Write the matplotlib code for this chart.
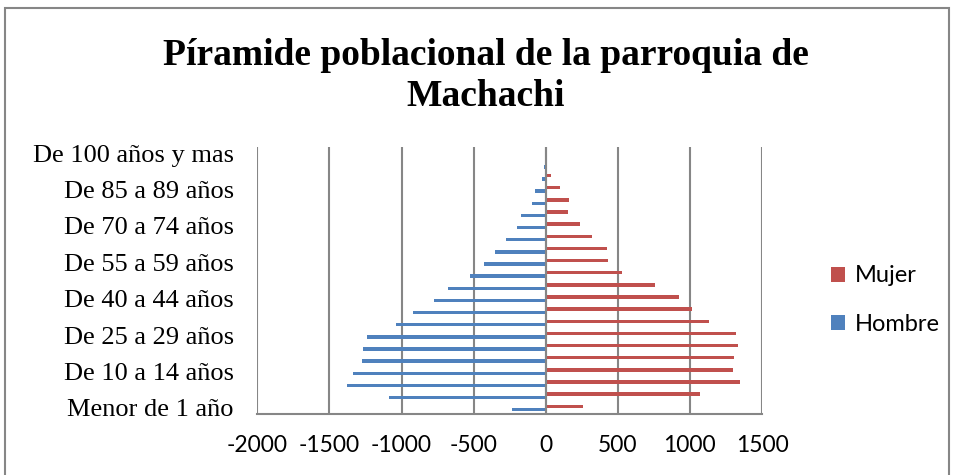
import numpy as np
import matplotlib.pyplot as plt
from matplotlib.patches import Rectangle

# age groups, bottom to top
grupos = ['Menor de 1 año', 'De 1 a 4 años', 'De 5 a 9 años', 'De 10 a 14 años',
          'De 15 a 19 años', 'De 20 a 24 años', 'De 25 a 29 años', 'De 30 a 34 años',
          'De 35 a 39 años', 'De 40 a 44 años', 'De 45 a 49 años', 'De 50 a 54 años',
          'De 55 a 59 años', 'De 60 a 64 años', 'De 65 a 69 años', 'De 70 a 74 años',
          'De 75 a 79 años', 'De 80 a 84 años', 'De 85 a 89 años', 'De 90 a 94 años',
          'De 95 a 99 años', 'De 100 años y mas']
hombre = [-235, -1088, -1381, -1337, -1273, -1266, -1240, -1039, -919, -775, -680,
          -523, -430, -354, -273, -201, -174, -93, -74, -24, -12, -2]
mujer = [259, 1069, 1346, 1302, 1307, 1335, 1318, 1131, 1018, 925, 761,
         530, 435, 425, 324, 238, 155, 160, 97, 37, 8, 3]
xticks = [-2000, -1500, -1000, -500, 0, 500, 1000, 1500]

azul = '#4F81BD'
rojo = '#C0504D'
gris = '#868686'

fig = plt.figure(figsize=(9.55, 4.75), dpi=100)
ax = fig.add_axes([257.3 / 955, 1 - 414 / 475, 504.7 / 955, 267 / 475])

y = np.arange(len(grupos))
h = 0.28
ax.barh(y - h / 2, hombre, height=h, color=azul, label='Hombre', zorder=3)
ax.barh(y + h / 2, mujer, height=h, color=rojo, label='Mujer', zorder=3)

ax.set_xlim(-2000, 1500)
ax.set_ylim(-0.5, len(grupos) - 0.5)
ax.set_xticks(xticks)
ax.set_xticklabels([str(v) for v in xticks], family='Lato', fontsize=16.5)
ax.set_yticks(y[::3])
ax.set_yticklabels(grupos[::3], family='Liberation Serif', fontsize=19)
ax.tick_params(axis='x', length=0, pad=15)
ax.tick_params(axis='y', length=0, pad=17)

for v in xticks:
    ax.axvline(v, color=gris, lw=1.5, zorder=1)
ax.axvline(0, color=gris, lw=1.5, zorder=4)

for s in ['top', 'left', 'right']:
    ax.spines[s].set_visible(False)
ax.spines['bottom'].set_color(gris)
ax.spines['bottom'].set_linewidth(1.5)

fig.text(486 / 955, 1 - 76 / 475, 'Píramide poblacional de la parroquia de\nMachachi',
         ha='center', va='center', family='Liberation Serif', fontweight='bold',
         fontsize=27, linespacing=1.2)

handles, labels = ax.get_legend_handles_labels()
fig.legend(handles[::-1], labels[::-1], loc='center left',
           bbox_to_anchor=(810 / 955, 1 - 300 / 475), frameon=False,
           prop={'family': 'Lato', 'size': 17}, handlelength=0.6, handleheight=0.6,
           handletextpad=0.4, labelspacing=1.15)

fig.patches.append(Rectangle((5 / 955, -0.05), 944 / 955, 1.05 - 8 / 475,
                             transform=fig.transFigure, fill=False,
                             edgecolor=gris, lw=1.5))

fig.savefig('out.png', dpi=100)
